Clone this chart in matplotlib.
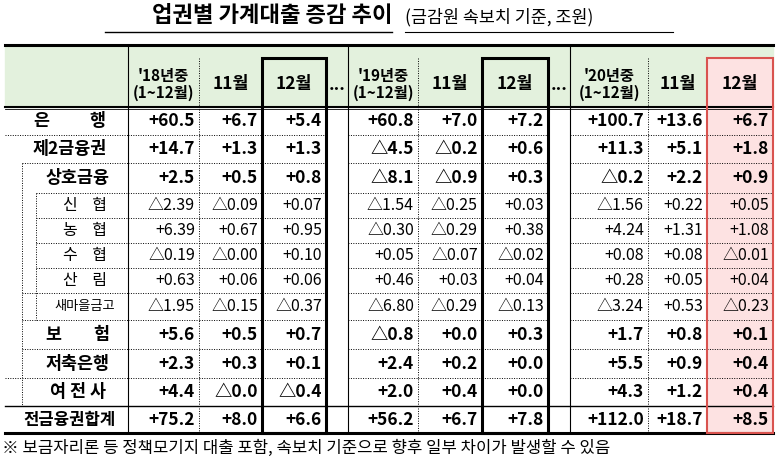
import matplotlib
matplotlib.use("Agg")
import matplotlib.pyplot as plt
from matplotlib.patches import Rectangle

plt.rcParams['font.family'] = ['Noto Sans CJK KR', 'DejaVu Sans']

title = "업권별 가계대출 증감 추이"
subtitle = "(금감원 속보치 기준, 조원)"
footnote = "※ 보금자리론 등 정책모기지 대출 포함, 속보치 기준으로 향후 일부 차이가 발생할 수 있음"

col_headers = ["'18년중\n(1~12월)", "11월", "12월", "...",
               "'19년중\n(1~12월)", "11월", "12월", "...",
               "'20년중\n(1~12월)", "11월", "12월"]
row_labels = ["은          행", "제2금융권", "상호금융", "신    협", "농    협", "수    협",
              "산    림", "새마을금고", "보        험", "저축은행", "여 전 사", "전금융권합계"]
row_level = [0, 0, 1, 2, 2, 2, 2, 2, 1, 1, 1, 0]

y18 = ["+60.5", "+14.7", "+2.5", "△2.39", "+6.39", "△0.19", "+0.63", "△1.95", "+5.6", "+2.3", "+4.4", "+75.2"]
n18 = ["+6.7", "+1.3", "+0.5", "△0.09", "+0.67", "△0.00", "+0.06", "△0.15", "+0.5", "+0.3", "△0.0", "+8.0"]
d18 = ["+5.4", "+1.3", "+0.8", "+0.07", "+0.95", "+0.10", "+0.06", "△0.37", "+0.7", "+0.1", "△0.4", "+6.6"]
y19 = ["+60.8", "△4.5", "△8.1", "△1.54", "△0.30", "+0.05", "+0.46", "△6.80", "△0.8", "+2.4", "+2.0", "+56.2"]
n19 = ["+7.0", "△0.2", "△0.9", "△0.25", "△0.29", "△0.07", "+0.03", "△0.29", "+0.0", "+0.2", "+0.4", "+6.7"]
d19 = ["+7.2", "+0.6", "+0.3", "+0.03", "+0.38", "△0.02", "+0.04", "△0.13", "+0.3", "+0.0", "+0.0", "+7.8"]
y20 = ["+100.7", "+11.3", "△0.2", "△1.56", "+4.24", "+0.08", "+0.28", "△3.24", "+1.7", "+5.5", "+4.3", "+112.0"]
n20 = ["+13.6", "+5.1", "+2.2", "+0.22", "+1.31", "+0.08", "+0.05", "+0.53", "+0.8", "+0.9", "+1.2", "+18.7"]
d20 = ["+6.7", "+1.8", "+0.9", "+0.05", "+1.08", "△0.01", "+0.04", "△0.23", "+0.1", "+0.4", "+0.4", "+8.5"]
columns = [y18, n18, d18, None, y19, n19, d19, None, y20, n20, d20]

# layout in pixels
xs = [128, 199, 262, 326, 348, 418, 482, 548, 570, 648, 707, 773]
ys = [45, 107, 135, 163, 193, 218, 243, 268, 293, 320, 349, 378, 406, 433]
left = 5
level_x = [5, 22, 36]

fig = plt.figure(figsize=(7.81, 4.65), dpi=100)
ax = fig.add_axes([0, 0, 1, 1])
ax.set_xlim(0, 781)
ax.set_ylim(465, 0)
ax.axis("off")

# title
ax.text(392, 16, title, ha="right", va="center", fontsize=16, fontweight="bold")
ax.plot([105, 392], [32, 32], color="black", lw=1)
ax.text(405, 17, subtitle, ha="left", va="center", fontsize=12.5)
ax.plot([405, 673], [32, 32], color="black", lw=0.8)

# fills
ax.add_patch(Rectangle((left, ys[0]), xs[-1] - left, ys[1] - ys[0], color="#e3f1dd", zorder=0))
ax.add_patch(Rectangle((xs[10], ys[0] + 13), xs[11] - xs[10], ys[-1] - ys[0] - 13,
                       facecolor="#fde2e2", edgecolor="none", zorder=0))
for k in (3, 7):
    ax.add_patch(Rectangle((xs[k], ys[1]), xs[k + 1] - xs[k], ys[-1] - ys[1], color="white", zorder=0))

dot = dict(color="black", lw=0.7, ls=(0, (1, 1.5)))
# horizontal row lines
for i in range(1, len(ys) - 1):
    lvl = row_level[i - 1] if i - 1 < len(row_level) else 0
    nxt = row_level[i] if i < len(row_level) else 0
    xl = level_x[min(lvl, nxt)]
    for k in range(11):
        if k in (3, 7):
            continue
        ax.plot([xs[k], xs[k + 1]], [ys[i], ys[i]], **dot)
    ax.plot([xl, xs[0]], [ys[i], ys[i]], **dot)
ax.plot([left, xs[-1]], [ys[1], ys[1]], color="black", lw=1.5)
ax.plot([left, xs[-1]], [ys[1] + 2, ys[1] + 2], color="black", lw=0.6)
ax.plot([left, xs[-1]], [ys[0], ys[0]], color="black", lw=2.2)
ax.plot([left, xs[-1]], [ys[-2], ys[-2]], color="black", lw=1)
ax.plot([left, xs[-1]], [ys[-1], ys[-1]], color="black", lw=2.2)
# label indent lines
ax.plot([level_x[1], level_x[1]], [ys[3], ys[-2]], **dot)
ax.plot([level_x[2], level_x[2]], [ys[4], ys[9]], **dot)

# vertical column lines
for k, x in enumerate(xs[:-1]):
    ytop = ys[0] if k in (0, 4, 8) else ys[0] + 13
    style = dict(color="black", lw=0.8) if k in (0, 4, 8) else dot
    ax.plot([x, x], [ytop, ys[-1]], **style)
ax.plot([xs[-1], xs[-1]], [ys[0] + 13, ys[-1]], **dot)
for k in (2, 6):
    ax.add_patch(Rectangle((xs[k], ys[0] + 13), xs[k + 1] - xs[k], ys[-1] - ys[0] - 13,
                           fill=False, edgecolor="black", lw=2.2, zorder=3))
ax.add_patch(Rectangle((xs[10], ys[0] + 13), xs[11] - xs[10], ys[-1] - ys[0] - 13,
                       fill=False, edgecolor="#d9534f", lw=1.5, zorder=3))

# header text
for k, h in enumerate(col_headers):
    cx = (xs[k] + xs[k + 1]) / 2
    two = "\n" in h
    ax.text(cx, (ys[0] + 13 + ys[1]) / 2 + 2, h, ha="center", va="center",
            fontsize=11 if two else 12.5, fontweight="bold", linespacing=1.05)

# row labels and values
for i, lab in enumerate(row_labels):
    cy = (ys[i + 1] + ys[i + 2]) / 2
    lvl = row_level[i]
    bold = lvl < 2
    fs = 12.5 if bold else 11.5
    if lab == "새마을금고":
        fs = 9.5
    if lab == "전금융권합계":
        fs = 12
    ax.text((level_x[lvl] + xs[0]) / 2 + 3, cy, lab, ha="center", va="center",
            fontsize=fs, fontweight="bold" if bold else "normal")
    for k, col in enumerate(columns):
        if col is None:
            continue
        ax.text(xs[k + 1] - 4, cy, col[i], ha="right", va="center",
                fontsize=12.5 if bold else 11.5, fontweight="bold" if bold else "normal")

ax.text(2, 448, footnote, ha="left", va="center", fontsize=12)

fig.savefig("out.png", dpi=100)
